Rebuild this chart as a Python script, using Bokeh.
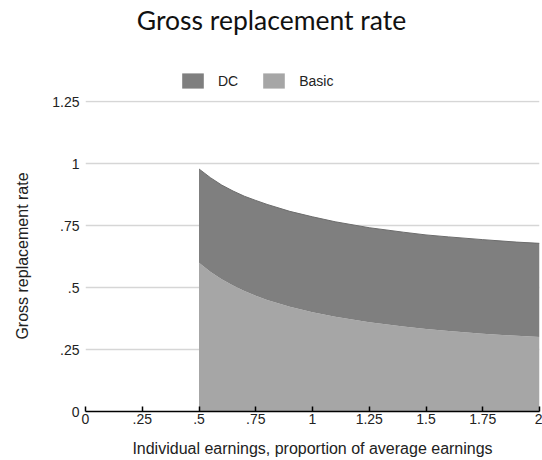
from bokeh.plotting import figure
from bokeh.layouts import column
from bokeh.models import (Range1d, FixedTicker, Label, Legend, LegendItem,
                          ColumnDataSource)
from bokeh.embed import file_html
from bokeh.resources import INLINE

# ---- data ----
earnings = [0.5, 0.55, 0.6, 0.65, 0.7, 0.75, 0.8, 0.9, 1.0, 1.1, 1.25,
            1.4, 1.5, 1.6, 1.75, 1.9, 2.0]
basic = [0.600, 0.564, 0.533, 0.508, 0.486, 0.467, 0.450, 0.422, 0.400,
         0.382, 0.360, 0.343, 0.333, 0.325, 0.314, 0.305, 0.300]
dc = [0.378, 0.379, 0.380, 0.381, 0.382, 0.384, 0.385, 0.385, 0.385,
      0.383, 0.381, 0.380, 0.379, 0.379, 0.379, 0.378, 0.378]

x_ticks = [0, 0.25, 0.5, 0.75, 1.0, 1.25, 1.5, 1.75, 2.0]
x_tick_labels = ["0", ".25", ".5", ".75", "1", "1.25", "1.5", "1.75", "2"]
y_ticks = [0, 0.25, 0.5, 0.75, 1.0, 1.25]
y_tick_labels = ["0", ".25", ".5", ".75", "1", "1.25"]

title_text = "Gross replacement rate"
x_label = "Individual earnings, proportion of average earnings"
y_label = "Gross replacement rate"
series_names = ["DC", "Basic"]
series_colors = ["#7f7f7f", "#a6a6a6"]

total = [b + d for b, d in zip(basic, dc)]
src = ColumnDataSource(dict(x=earnings, basic=basic, total=total,
                            zero=[0] * len(earnings)))

AX_FONT = "Liberation Sans"
W = 542
B_LEFT, B_RIGHT = 85, 3
TOP_H = 91          # header strip: title + legend
MAIN_H = 369        # chart

# ---------------- header (title + legend) ----------------
# its ranges keep the (legend-only) area renderers out of view
head = figure(width=W, height=TOP_H, output_backend="svg",
              toolbar_location=None, x_axis_type=None, y_axis_type=None,
              x_range=Range1d(10, 11), y_range=Range1d(10, 11),
              min_border_left=B_LEFT, min_border_right=B_RIGHT,
              min_border_top=0, min_border_bottom=0)
head.outline_line_color = None
head.grid.visible = False

head.add_layout(Label(x=186, y=TOP_H - 19, x_units="screen", y_units="screen",
                      text=title_text, text_font="Lato",
                      text_font_size="26.5px", text_color="#111111",
                      text_align="center", text_baseline="alphabetic"))

sw_dc = head.varea(x="x", y1="basic", y2="total", source=src,
                   fill_color=series_colors[0])
sw_basic = head.varea(x="x", y1="zero", y2="basic", source=src,
                      fill_color=series_colors[1])
legend = Legend(items=[LegendItem(label=series_names[0], renderers=[sw_dc]),
                       LegendItem(label=series_names[1], renderers=[sw_basic])],
                location=(94, 1), orientation="horizontal",
                glyph_width=27, glyph_height=19, label_height=19,
                label_standoff=12, spacing=22, padding=0, margin=0,
                border_line_color=None, background_fill_alpha=0,
                label_text_font=AX_FONT, label_text_font_size="14px",
                label_text_color="#222222")
head.add_layout(legend, "center")

# ---------------- main chart ----------------
frame_h = 311
y_end = 1.25 * frame_h / 310.0   # keeps the 1.25 gridline just inside
p = figure(width=W, height=MAIN_H, output_backend="svg",
           toolbar_location=None,
           x_range=Range1d(0, 2), y_range=Range1d(0, y_end),
           min_border_left=B_LEFT, min_border_right=B_RIGHT,
           min_border_top=MAIN_H - 49 - frame_h, min_border_bottom=49)
p.outline_line_color = None
p.background_fill_color = "white"
p.xgrid.visible = False
p.ygrid.ticker = FixedTicker(ticks=y_ticks[1:])
p.ygrid.grid_line_color = "#d6d6d6"
p.ygrid.grid_line_width = 1.5

p.varea(x="x", y1="zero", y2="basic", source=src, fill_color=series_colors[1])
p.varea(x="x", y1="basic", y2="total", source=src, fill_color=series_colors[0])
p.line(x="x", y="total", source=src, line_color="#6c6c6c", line_width=1)

# x axis
xa = p.xaxis[0]
xa.ticker = FixedTicker(ticks=x_ticks)
xa.major_label_overrides = {t: l for t, l in zip(x_ticks, x_tick_labels)}
xa.axis_line_color = "black"
xa.axis_line_width = 1.5
xa.major_tick_in = 5
xa.major_tick_out = 0
xa.major_tick_line_color = "black"
xa.major_tick_line_width = 1.5
xa.minor_tick_line_color = None
xa.major_label_text_font = AX_FONT
xa.major_label_text_font_size = "14px"
xa.major_label_text_color = "#222222"
xa.major_label_standoff = 2
xa.axis_label = x_label
xa.axis_label_text_font = AX_FONT
xa.axis_label_text_font_size = "16px"
xa.axis_label_text_font_style = "normal"
xa.axis_label_text_color = "#222222"
xa.axis_label_standoff = 13

# y axis
ya = p.yaxis[0]
ya.ticker = FixedTicker(ticks=y_ticks)
ya.major_label_overrides = {t: l for t, l in zip(y_ticks, y_tick_labels)}
ya.axis_line_color = None
ya.major_tick_line_color = None
ya.minor_tick_line_color = None
ya.major_tick_out = 0
ya.major_tick_in = 0
ya.major_label_text_font = AX_FONT
ya.major_label_text_font_size = "14px"
ya.major_label_text_color = "#222222"
ya.major_label_standoff = 6
ya.axis_label = y_label
ya.axis_label_text_font = AX_FONT
ya.axis_label_text_font_size = "16px"
ya.axis_label_text_font_style = "normal"
ya.axis_label_text_color = "#222222"
ya.axis_label_standoff = 18

layout = column(head, p, spacing=0)
open("out.html", "w").write(file_html(layout, INLINE))
